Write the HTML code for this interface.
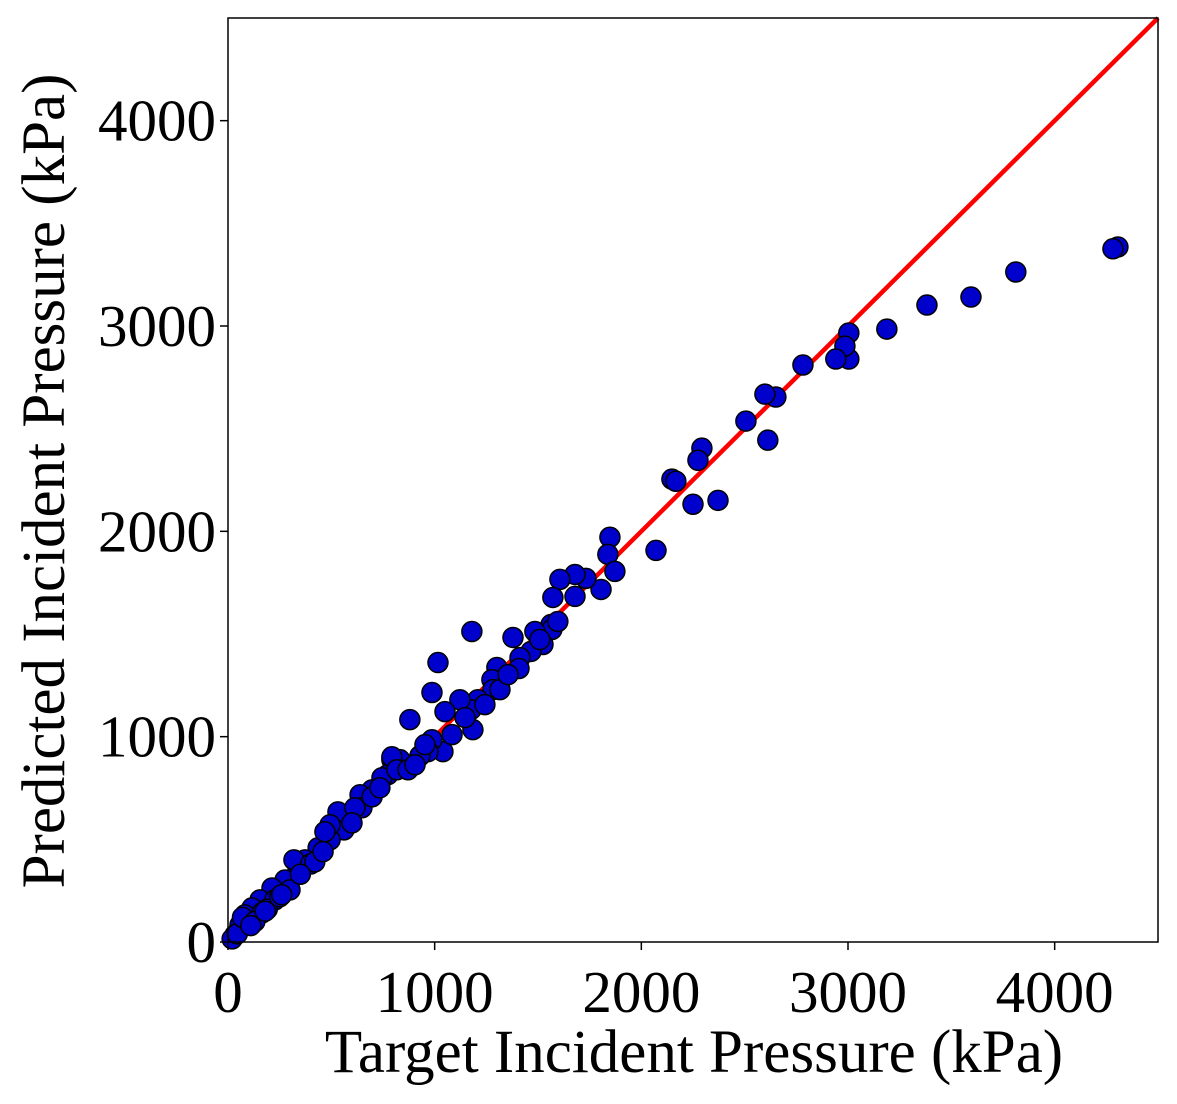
<!DOCTYPE html>
<html><head><meta charset="utf-8"><style>
body{margin:0;background:#fff}
svg{display:block}
text{font-family:"Liberation Serif",serif;fill:#000}
</style></head><body>
<svg id="chart" width="1177" height="1104" viewBox="0 0 1177 1104">
<g id="marks"></g>
<g id="axes"></g>
</svg>
<script>
const xTicks=[0,1000,2000,3000,4000];
const yTicks=[0,1000,2000,3000,4000];
const targetVals=[4306,4282,3812,3595,3382,3188,3004,3004,2985,2941,2782,2651,2598,2612,2506,2293,2274,2148,2167,2250,2371,2071,1848,1838,1872,1805,1732,1679,1606,1572,1679,1563,1567,1485,1524,1466,1180,1379,1413,1408,1016,987,1301,1277,1282,1209,1176,1122,1185,1050,1040,880,987,968,929,832,793,774,793,745,697,639,648,542,561,494,436,373,339,319,276,213,155,116,82,58,34,97,164,227,300,532,494,469,614,697,735,817,871,905,953,1084,1147,1243,1316,1355,1509,1596,20,45,70,130,190,250,400,420,600,110,180,260,350,460];
const predVals=[3385,3376,3263,3141,3102,2985,2966,2839,2902,2839,2810,2654,2668,2444,2537,2405,2346,2254,2244,2132,2151,1907,1971,1888,1805,1717,1771,1790,1766,1678,1683,1546,1522,1512,1449,1415,1512,1483,1385,1332,1361,1215,1337,1278,1229,1180,1132,1180,1034,1122,927,1083,985,927,907,888,888,815,902,800,741,717,654,595,546,498,459,400,351,400,302,263,205,166,132,83,34,83,141,205,254,634,571,537,654,707,751,839,839,863,961,1010,1093,1156,1229,1302,1473,1561,15,40,120,100,160,220,380,390,580,80,150,230,330,440];
const L=228,R=1158,T=18,B=942,MAX=4500;
const sx=v=>L+(R-L)*v/MAX, sy=v=>B-(B-T)*v/MAX;
const NS="http://www.w3.org/2000/svg";
const marks=document.getElementById('marks'), axes=document.getElementById('axes');
function mk(tag,attrs,parent){const e=document.createElementNS(NS,tag);for(const k in attrs)e.setAttribute(k,attrs[k]);parent.appendChild(e);return e;}
const line=mk('line',{x1:sx(0),y1:sy(0),x2:sx(MAX),y2:sy(MAX),stroke:'#ff0000','stroke-width':4.5},marks);


for(let i=0;i<targetVals.length;i++){
  const c=mk('circle',{cx:sx(targetVals[i]),cy:sy(predVals[i]),r:10,fill:'#0000cd',stroke:'#000','stroke-width':1.5},marks);
  
  
}
const frame=mk('rect',{x:L,y:T,width:R-L,height:B-T,fill:'none',stroke:'#000','stroke-width':1.5},axes);


xTicks.forEach(v=>{
  mk('line',{x1:sx(v),y1:B,x2:sx(v),y2:B+8,stroke:'#000','stroke-width':1.5},axes);
  const t=mk('text',{x:sx(v),y:1012,'font-size':59,'text-anchor':'middle'},axes);
  t.textContent=v;
  
  
});
yTicks.forEach(v=>{
  mk('line',{x1:L-8,y1:sy(v),x2:L,y2:sy(v),stroke:'#000','stroke-width':1.5},axes);
  const t=mk('text',{x:216,y:sy(v)+20,'font-size':59,'text-anchor':'end'},axes);
  t.textContent=v;
  
  
});
const xt=mk('text',{x:694,y:1072,'font-size':61,'text-anchor':'middle'},axes);
xt.textContent='Target Incident Pressure (kPa)';


const yt=mk('text',{x:0,y:0,'font-size':61,'text-anchor':'middle',transform:'translate(64,481) rotate(-90)'},axes);
yt.textContent='Predicted Incident Pressure (kPa)';


</script>
</body></html>
